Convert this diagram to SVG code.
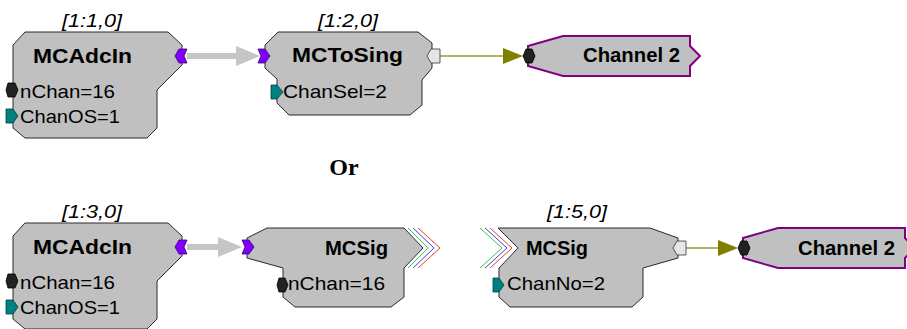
<svg xmlns="http://www.w3.org/2000/svg" width="907" height="329" viewBox="0 0 907 329">
<style>
.box{fill:#c0c0c0;stroke:#2a2a2a;stroke-width:1}
.chan{fill:#c0c0c0;stroke:#800080;stroke-width:2}
.title{font-family:"Liberation Sans",Arial,sans-serif;font-weight:bold;font-size:20px;fill:#000}
.param{font-family:"Liberation Sans",Arial,sans-serif;font-size:19px;fill:#000}
.lbl{font-family:"Liberation Sans",Arial,sans-serif;font-style:italic;font-size:19px;fill:#000}
.mc{fill:#7f00ff;stroke:#3a0070;stroke-width:0.8}
.teal{fill:#008080;stroke:#004040;stroke-width:0.8}
.blk{fill:#222;stroke:#000;stroke-width:0.8}
.out{fill:#e6e6e6;stroke:#333;stroke-width:0.8}
.gline{stroke:#c6c6c6;stroke-width:6;fill:none}
.ghead{fill:#c6c6c6}
.oline{stroke:#9a9a30;stroke-width:1.5;fill:none}
.ohead{fill:#808000}
.cg{stroke:#40c040;stroke-width:1;fill:none}
.cb{stroke:#4040e0;stroke-width:1;fill:none}
.cr{stroke:#e04040;stroke-width:1;fill:none}
</style>

<g id="connectors">
  <line class="gline" x1="187" y1="56" x2="238" y2="56"/>
  <polygon class="ghead" points="236,46 260,56 236,66"/>
  <line class="oline" x1="440" y1="56" x2="505" y2="56"/>
  <polygon class="ohead" points="503,48 523,56 503,64"/>
  <line class="gline" x1="187" y1="247" x2="220" y2="247"/>
  <polygon class="ghead" points="218,237 242,247 218,257"/>
  <line class="oline" x1="685" y1="248" x2="720" y2="248"/>
  <polygon class="ohead" points="718,240 738,248 718,256"/>
</g>

<g id="mcadcin1">
  <text class="lbl" x="62" y="27" textLength="60" lengthAdjust="spacingAndGlyphs">[1:1,0]</text>
  <polygon class="box" points="25,32 168,32 182,45 182,65 157,90 157,128 147,138 25,138 13,128 13,45"/>
  <text class="title" x="33" y="63" textLength="99" lengthAdjust="spacingAndGlyphs">MCAdcIn</text>
  <text class="param" x="20" y="98" textLength="95" lengthAdjust="spacingAndGlyphs">nChan=16</text>
  <text class="param" x="20" y="123" textLength="100" lengthAdjust="spacingAndGlyphs">ChanOS=1</text>
  <polygon class="blk" points="6,90 8,83 15,83 18,90 15,97 8,97"/>
  <polygon class="teal" points="6,109 13,109 18,116 13,123 6,123"/>
  <polygon class="mc" points="175,56 179,49 187,49 184,56 187,63 179,63"/>
</g>

<g id="mctosing">
  <text class="lbl" x="318" y="27" textLength="60" lengthAdjust="spacingAndGlyphs">[1:2,0]</text>
  <polygon class="box" points="278,32 418,32 432,43 432,68 422,80 422,105 410,115 289,115 277,103 277,79 265,68 265,45"/>
  <text class="title" x="292" y="62" textLength="111" lengthAdjust="spacingAndGlyphs">MCToSing</text>
  <text class="param" x="283" y="98" textLength="104" lengthAdjust="spacingAndGlyphs">ChanSel=2</text>
  <polygon class="mc" points="258,49 265,49 270,56 265,63 258,63 261,56"/>
  <polygon class="teal" points="271,85 277,85 283,92 277,99 271,99"/>
  <polygon class="out" points="427,56 431,49 440,49 440,63 431,63"/>
</g>

<g id="channel2a">
  <polygon class="chan" points="528,46 563,36 690,36 690,46 700,56 690,66 690,76 563,76 528,66"/>
  <polygon class="blk" points="523,56 526,49 532,49 535,56 532,63 526,63"/>
  <text class="title" x="583" y="62" textLength="97" lengthAdjust="spacingAndGlyphs">Channel 2</text>
</g>

<g id="or">
  <text x="344" y="175" text-anchor="middle" font-family="'Liberation Serif','Times New Roman',serif" font-weight="bold" font-size="24">Or</text>
</g>

<g id="mcadcin2">
  <text class="lbl" x="62" y="218" textLength="60" lengthAdjust="spacingAndGlyphs">[1:3,0]</text>
  <polygon class="box" points="25,223 168,223 182,236 182,256 157,281 157,319 147,329 25,329 13,319 13,236"/>
  <text class="title" x="33" y="254" textLength="99" lengthAdjust="spacingAndGlyphs">MCAdcIn</text>
  <text class="param" x="20" y="289" textLength="95" lengthAdjust="spacingAndGlyphs">nChan=16</text>
  <text class="param" x="20" y="314" textLength="100" lengthAdjust="spacingAndGlyphs">ChanOS=1</text>
  <polygon class="blk" points="6,281 8,274 15,274 18,281 15,288 8,288"/>
  <polygon class="teal" points="6,300 13,300 18,307 13,314 6,314"/>
  <polygon class="mc" points="175,247 179,240 187,240 184,247 187,254 179,254"/>
</g>

<g id="mcsig1">
  <polygon class="box" points="247,238 267,228 404,228 423,248 404,268 404,297 391,307 295,307 283,297 283,268 247,258"/>
  <text class="title" x="325" y="255" textLength="63" lengthAdjust="spacingAndGlyphs">MCSig</text>
  <text class="param" x="288" y="290" textLength="97" lengthAdjust="spacingAndGlyphs">nChan=16</text>
  <polygon class="mc" points="242,240 249,240 254,247 249,254 242,254 245,247"/>
  <polygon class="blk" points="277,285 279,278 285,278 288,285 285,292 279,292"/>
  <polyline class="cg" points="408,228 428,248 408,268"/>
  <polyline class="cb" points="413,228 434,248 413,268"/>
  <polyline class="cr" points="418,228 440,248 418,268"/>
</g>

<g id="mcsig2">
  <text class="lbl" x="547" y="218" textLength="60" lengthAdjust="spacingAndGlyphs">[1:5,0]</text>
  <polyline class="cg" points="480,228 502,248 480,268"/>
  <polyline class="cb" points="485,228 507,248 485,268"/>
  <polyline class="cr" points="490,228 512,248 490,268"/>
  <polygon class="box" points="498,228 650,228 678,238 678,258 643,268 643,297 632,307 510,307 499,297 499,268 518,248"/>
  <text class="title" x="526" y="255" textLength="62" lengthAdjust="spacingAndGlyphs">MCSig</text>
  <text class="param" x="507" y="290" textLength="98" lengthAdjust="spacingAndGlyphs">ChanNo=2</text>
  <polygon class="teal" points="493,278 499,278 504,285 499,292 493,292"/>
  <polygon class="out" points="673,248 677,241 686,241 686,255 677,255"/>
</g>

<g id="channel2b">
  <polygon class="chan" points="743,238 778,228 905,228 905,238 915,248 905,258 905,268 778,268 743,258"/>
  <polygon class="blk" points="738,248 741,241 747,241 750,248 747,255 741,255"/>
  <text class="title" x="798" y="255" textLength="97" lengthAdjust="spacingAndGlyphs">Channel 2</text>
</g>
</svg>
